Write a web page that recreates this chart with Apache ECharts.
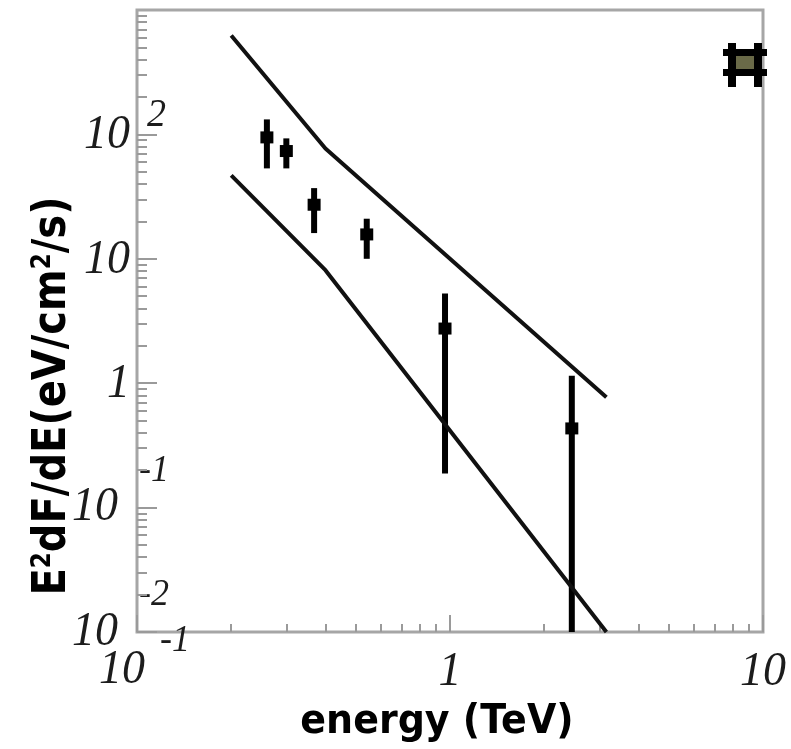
<!DOCTYPE html>
<html>
<head>
<meta charset="utf-8">
<script src="https://cdn.jsdelivr.net/npm/echarts@6/dist/echarts.min.js"></script>
<style>
  html, body { margin: 0; padding: 0; background: #fff; }
  #chart { width: 791px; height: 749px; }
</style>
</head>
<body>
<div id="chart"></div>
<script>
// measured points: energy (TeV), E2 dF/dE and its error range (eV/cm2/s)
const pointE = [0.26, 0.30, 0.368, 0.542, 0.964, 2.45];
const pointF = [94.6, 73.5, 27.2, 15.7, 2.75, 0.433];
const pointLo = [53.3, 53.3, 16.1, 10.0, 0.188, 0.01];
const pointHi = [132, 92.9, 37.0, 21.0, 5.25, 1.15];

// upper / lower model curves
const bandE = [0.2, 0.4, 3.16];
const upperF = [624, 77, 0.77];
const lowerF = [46.8, 8.1, 0.01];

// axes
const xMin = 0.1, xMax = 10;
const yMin = 0.01, yMax = 1000;
const xMajor = [0.1, 1, 10];
const xLabelBase = ['10', '1', '10'];
const xLabelExp = ['-1', '', ''];
const yMajor = [0.01, 0.1, 1, 10, 100];
const yLabelBase = ['10', '10', '1', '10', '10'];
const yLabelExp = ['-2', '-1', '', '', '2'];

function minorTicks(lo, hi) {
  const out = [];
  for (let d = lo; d < hi; d *= 10) {
    for (let k = 2; k <= 9; k++) out.push(+(k * d).toPrecision(3));
  }
  return out;
}

const axisGrey = '#9a9a9a';
const ink = '#111';

const chart = echarts.init(document.getElementById('chart'));

const option = {
  animation: false,
  backgroundColor: '#fff',
  grid: {
    left: 137, right: 28, top: 10, bottom: 117,
    show: true, borderColor: '#a6a6a6', borderWidth: 3
  },
  xAxis: [
    {
      type: 'log', logBase: 10, min: xMin, max: xMax, position: 'bottom',
      axisLine: { show: false },
      axisTick: { show: true, inside: true, length: 17, customValues: xMajor,
        lineStyle: { color: axisGrey, width: 2 } },
      axisLabel: { show: false },
      splitLine: { show: false }
    },
    {
      type: 'log', logBase: 10, min: xMin, max: xMax, position: 'bottom',
      axisLine: { show: false },
      axisTick: { show: true, inside: true, length: 8, customValues: minorTicks(0.1, 10),
        lineStyle: { color: axisGrey, width: 2 } },
      axisLabel: { show: false },
      splitLine: { show: false }
    }
  ],
  yAxis: [
    {
      type: 'log', logBase: 10, min: yMin, max: yMax, position: 'left',
      axisLine: { show: false },
      axisTick: { show: true, inside: true, length: 20, customValues: yMajor,
        lineStyle: { color: axisGrey, width: 2 } },
      axisLabel: { show: false },
      splitLine: { show: false }
    },
    {
      type: 'log', logBase: 10, min: yMin, max: yMax, position: 'left',
      axisLine: { show: false },
      axisTick: { show: true, inside: true, length: 10, customValues: minorTicks(0.01, 1000),
        lineStyle: { color: axisGrey, width: 2 } },
      axisLabel: { show: false },
      splitLine: { show: false }
    }
  ],
  series: [
    {
      name: 'upper', type: 'line', symbol: 'none', silent: true,
      data: bandE.map((e, i) => [e, upperF[i]]),
      lineStyle: { color: ink, width: 4 }
    },
    {
      name: 'lower', type: 'line', symbol: 'none', silent: true,
      data: bandE.map((e, i) => [e, lowerF[i]]),
      lineStyle: { color: ink, width: 4 }
    },
    {
      name: 'points', type: 'custom',
      data: pointE.map((e, i) => [e, pointF[i], pointLo[i], pointHi[i]]),
      encode: { x: 0, y: 1 },
      renderItem: function (params, api) {
        const c = api.coord([api.value(0), api.value(1)]);
        const lo = api.coord([api.value(0), Math.max(api.value(2), yMin)]);
        const hi = api.coord([api.value(0), api.value(3)]);
        return {
          type: 'group',
          children: [
            { type: 'rect', shape: { x: c[0] - 3, y: hi[1], width: 6, height: lo[1] - hi[1] },
              style: { fill: '#000' } },
            { type: 'rect', shape: { x: c[0] - 6.5, y: c[1] - 6, width: 13, height: 12 },
              style: { fill: '#000' } }
          ]
        };
      }
    }
  ]
};

chart.setOption(option);

// tick labels in the ROOT style: italic serif "10" with a raised exponent
const serif = '"Liberation Serif", "DejaVu Serif", serif';
const labelColor = '#1c1c1c';
function txt(x, y, text, size, align, vAlign) {
  return {
    type: 'text', x: x, y: y, silent: true, scaleY: 1.06,
    style: {
      text: text, fontFamily: serif, fontStyle: 'italic', fontSize: size,
      fill: labelColor, align: align, verticalAlign: vAlign,
      textAlign: align, textVerticalAlign: vAlign
    }
  };
}

const graphics = [];
const axisX = chart.convertToPixel({ xAxisIndex: 0 }, xMin);
const axisY = chart.convertToPixel({ yAxisIndex: 0 }, yMin);

xMajor.forEach(function (v, i) {
  const px = chart.convertToPixel({ xAxisIndex: 0 }, v);
  if (xLabelExp[i]) {
    graphics.push(txt(px - 15, axisY + 38, xLabelBase[i], 46, 'center', 'middle'));
    graphics.push(txt(px + 38, axisY + 9, xLabelExp[i], 36, 'center', 'middle'));
  } else {
    graphics.push(txt(px, axisY + 40, xLabelBase[i], 46, 'center', 'middle'));
  }
});

yMajor.forEach(function (v, i) {
  const py = chart.convertToPixel({ yAxisIndex: 0 }, v);
  const exp = yLabelExp[i];
  if (exp && exp.charAt(0) === '-') {
    graphics.push(txt(axisX - 19, py, yLabelBase[i], 46, 'right', 'middle'));
    graphics.push(txt(axisX + 2, py - 37, exp, 36, 'left', 'middle'));
  } else if (exp) {
    graphics.push(txt(axisX - 7, py + 1, yLabelBase[i], 46, 'right', 'middle'));
    graphics.push(txt(axisX + 10, py - 19, exp, 38, 'left', 'middle'));
  } else {
    graphics.push(txt(axisX - 7, py + 1, yLabelBase[i], 46, 'right', 'middle'));
  }
});

// axis titles
const sans = '"DejaVu Sans", Verdana, sans-serif';
graphics.push({
  type: 'text', x: 437, y: 722, silent: true, scaleY: 1.08,
  style: {
    text: 'energy (TeV)', fontFamily: sans, fontWeight: 'bold', fontSize: 38,
    fill: '#000', align: 'center', verticalAlign: 'middle',
    textAlign: 'center', textVerticalAlign: 'middle'
  }
});
graphics.push({
  type: 'text', x: 53, y: 396, rotation: Math.PI / 2, silent: true, scaleY: 1.14,
  style: {
    text: '{n|E}{s|2}{n|dF/dE(eV/cm}{s|2}{n|/s)}',
    align: 'center', verticalAlign: 'middle',
    textAlign: 'center', textVerticalAlign: 'middle',
    rich: {
      n: { fontFamily: sans, fontWeight: 'bold', fontSize: 40, fill: '#000', color: '#000' },
      s: { fontFamily: sans, fontWeight: 'bold', fontSize: 23, fill: '#000', color: '#000',
        verticalAlign: 'top', lineHeight: 30 }
    }
  }
});

// marker box in the upper right corner
graphics.push({
  type: 'group', silent: true, z: 10,
  children: [
    { type: 'rect', shape: { x: 736, y: 55, width: 18, height: 15 }, style: { fill: '#6a6a48' } },
    { type: 'rect', shape: { x: 723, y: 49, width: 44, height: 7 }, style: { fill: '#000' } },
    { type: 'rect', shape: { x: 723, y: 69, width: 44, height: 7 }, style: { fill: '#000' } },
    { type: 'rect', shape: { x: 728, y: 43, width: 8, height: 44 }, style: { fill: '#000' } },
    { type: 'rect', shape: { x: 754, y: 43, width: 8, height: 44 }, style: { fill: '#000' } }
  ]
});

chart.setOption({ graphic: graphics });
</script>
</body>
</html>
